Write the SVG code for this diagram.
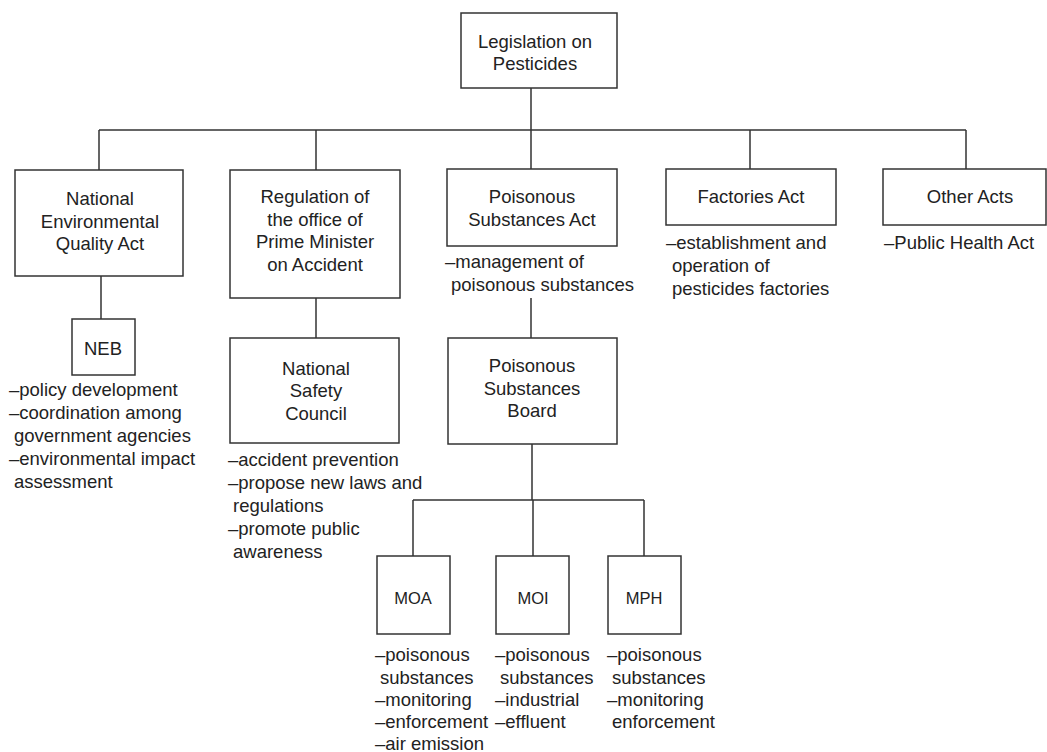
<svg xmlns="http://www.w3.org/2000/svg" width="1047" height="752" viewBox="0 0 1047 752">
<style>
.box{fill:#fff;stroke:#333;stroke-width:1.5}
.ln{stroke:#333;stroke-width:1.5;fill:none}
text{font-family:"Liberation Sans",Arial,sans-serif;font-size:18.5px;fill:#222}
.c{text-anchor:middle}
.s{font-size:16.5px}
</style>
<rect width="1047" height="752" fill="#fff"/>
<g id="connectors">
<path class="ln" d="M531 88V169M99 130H966M99 130V170M316 130V170M750 130V169M966 130V169"/>
<path class="ln" d="M101 276V319"/>
<path class="ln" d="M316 298V338"/>
<path class="ln" d="M531 298V338"/>
<path class="ln" d="M532 444V500M413 500H644M413 500V556M533 500V556M644 500V556"/>
</g>
<g id="n-top">
<rect class="box" x="461" y="13" width="156" height="75"/>
<text class="c" x="535" y="48">Legislation on</text>
<text class="c" x="535" y="70">Pesticides</text>
</g>
<g id="n-neqa">
<rect class="box" x="15" y="170" width="168" height="106"/>
<text class="c" x="100" y="205">National</text>
<text class="c" x="100" y="228">Environmental</text>
<text class="c" x="100" y="250">Quality Act</text>
</g>
<g id="n-neb">
<rect class="box" x="72" y="319" width="63" height="56"/>
<text class="c" x="103" y="355">NEB</text>
<text x="9" y="396">–policy development</text>
<text x="9" y="419">–coordination among</text>
<text x="14" y="442">government agencies</text>
<text x="9" y="465">–environmental impact</text>
<text x="14" y="488">assessment</text>
</g>
<g id="n-reg">
<rect class="box" x="230" y="170" width="170" height="128"/>
<text class="c" x="315" y="203">Regulation of</text>
<text class="c" x="315" y="226">the office of</text>
<text class="c" x="315" y="248">Prime Minister</text>
<text class="c" x="315" y="271">on Accident</text>
</g>
<g id="n-nsc">
<rect class="box" x="230" y="338" width="169" height="105"/>
<text class="c" x="316" y="375">National</text>
<text class="c" x="316" y="397">Safety</text>
<text class="c" x="316" y="420">Council</text>
<text x="228" y="466">–accident prevention</text>
<text x="228" y="489">–propose new laws and</text>
<text x="233" y="512">regulations</text>
<text x="228" y="535">–promote public</text>
<text x="233" y="558">awareness</text>
</g>
<g id="n-psa">
<rect class="box" x="447" y="169" width="170" height="77"/>
<text class="c" x="532" y="203">Poisonous</text>
<text class="c" x="532" y="226">Substances Act</text>
<text x="445" y="268">–management of</text>
<text x="451" y="291">poisonous substances</text>
</g>
<g id="n-psb">
<rect class="box" x="448" y="338" width="169" height="106"/>
<text class="c" x="532" y="372">Poisonous</text>
<text class="c" x="532" y="395">Substances</text>
<text class="c" x="532" y="417">Board</text>
</g>
<g id="n-fact">
<rect class="box" x="666" y="169" width="170" height="56"/>
<text class="c" x="751" y="203">Factories Act</text>
<text x="666" y="249">–establishment and</text>
<text x="672" y="272">operation of</text>
<text x="672" y="295">pesticides factories</text>
</g>
<g id="n-other">
<rect class="box" x="883" y="169" width="163" height="56"/>
<text class="c" x="970" y="203">Other Acts</text>
<text x="884" y="249">–Public Health Act</text>
</g>
<g id="n-moa">
<rect class="box" x="377" y="556" width="73" height="78"/>
<text class="c s" x="413" y="604">MOA</text>
<text x="375" y="661">–poisonous</text>
<text x="380" y="684">substances</text>
<text x="375" y="706">–monitoring</text>
<text x="375" y="728">–enforcement</text>
<text x="375" y="750">–air emission</text>
</g>
<g id="n-moi">
<rect class="box" x="496" y="556" width="73" height="78"/>
<text class="c s" x="533" y="604">MOI</text>
<text x="495" y="661">–poisonous</text>
<text x="500" y="684">substances</text>
<text x="495" y="706">–industrial</text>
<text x="495" y="728">–effluent</text>
</g>
<g id="n-mph">
<rect class="box" x="608" y="556" width="73" height="78"/>
<text class="c s" x="644" y="604">MPH</text>
<text x="607" y="661">–poisonous</text>
<text x="612" y="684">substances</text>
<text x="607" y="706">–monitoring</text>
<text x="612" y="728">enforcement</text>
</g>
</svg>
